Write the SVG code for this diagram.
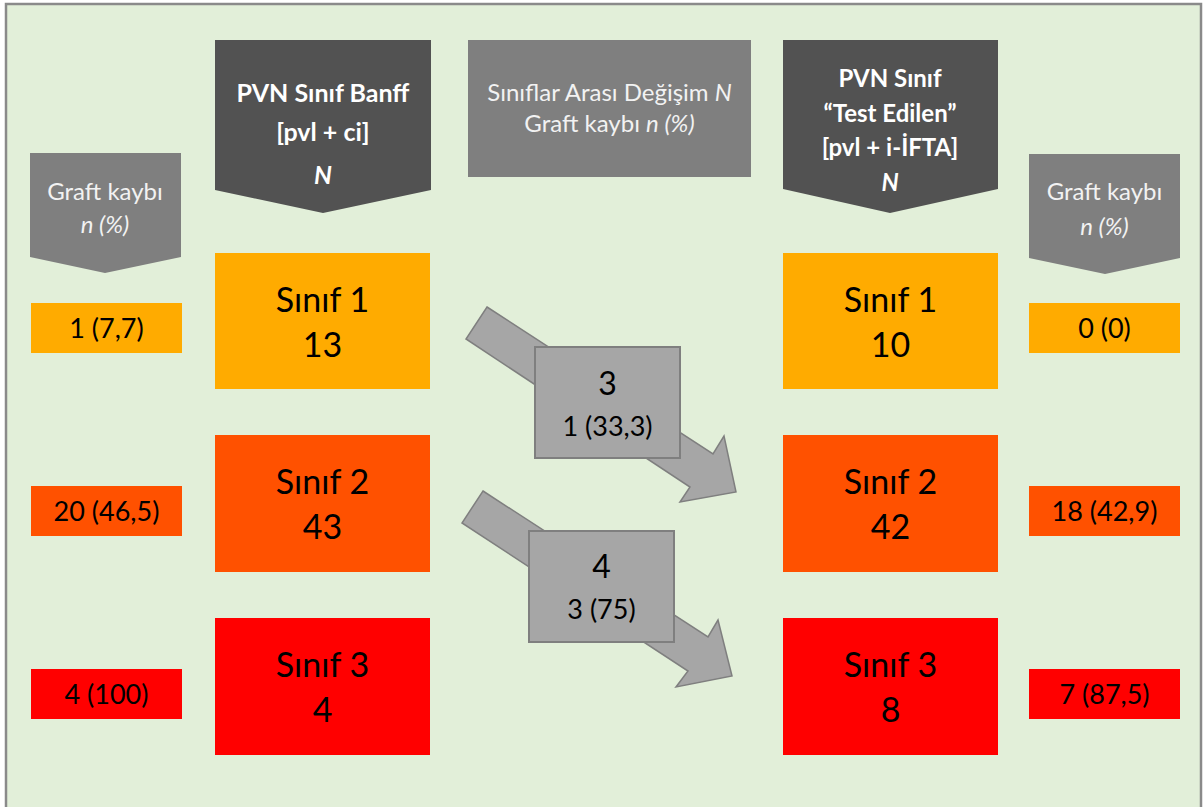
<svg xmlns="http://www.w3.org/2000/svg" width="1203" height="807" viewBox="0 0 1203 807">
<defs>
<style>
text{font-family:Lato,"Open Sans","Liberation Sans",sans-serif;text-anchor:middle}
.hdr{fill:#525252}
.gk{fill:#7f7f7f}
.c1{fill:#ffab00}
.c2{fill:#ff5100}
.c3{fill:#ff0000}
.big{font-size:34px;fill:#000}
.sm{font-size:27px;fill:#000}
.ht{font-size:24px;font-weight:bold;fill:#ffffff}
.gt{font-size:24px;fill:#f2f2f2}
.arr{fill:#a6a6a6;stroke:#7f7f7f;stroke-width:1.5}
.lbl{fill:#a6a6a6;stroke:#7f7f7f;stroke-width:2}
</style>
</defs>
<rect x="0" y="0" width="1203" height="807" fill="#ffffff"/>
<rect x="6" y="4" width="1195" height="812" fill="#e2efd9" stroke="#8a8a8a" stroke-width="2.5"/>

<g id="graft-left">
<polygon class="gk" points="30,153 181,153 181,257 105,273 30,257"/>
<text class="gt" x="105" y="200">Graft kaybı</text>
<text class="gt" x="105" y="233" font-style="italic">n (%)</text>
</g>
<g id="header-banff">
<polygon class="hdr" points="215,40 431,40 431,190 323,213 215,190"/>
<text class="ht" x="323" y="102" style="font-size:25px">PVN Sınıf Banff</text>
<text class="ht" x="323" y="141" style="font-size:25px">[pvl + ci]</text>
<text class="ht" x="323" y="184" style="font-size:25px" font-style="italic">N</text>
</g>
<g id="header-change">
<rect class="gk" x="468" y="40" width="283" height="137"/>
<text class="gt" x="609.5" y="101">Sınıflar Arası Değişim <tspan font-style="italic">N</tspan></text>
<text class="gt" x="609.5" y="132">Graft kaybı <tspan font-style="italic">n (%)</tspan></text>
</g>
<g id="header-tested">
<polygon class="hdr" points="783,40 998,40 998,189 890,213 783,189"/>
<text class="ht" x="890" y="87">PVN Sınıf</text>
<text class="ht" x="890" y="122">“Test Edilen”</text>
<text class="ht" x="890" y="156">[pvl + i-İFTA]</text>
<text class="ht" x="890" y="191" font-style="italic">N</text>
</g>
<g id="graft-right">
<polygon class="gk" points="1029,154 1180,154 1180,258 1105,274 1029,258"/>
<text class="gt" x="1104.5" y="200">Graft kaybı</text>
<text class="gt" x="1104.5" y="235" font-style="italic">n (%)</text>
</g>

<g id="connectors">
<polygon class="arr" points="487,307 713,454 724,436 736,492 680,502 690,487 466,339"/>
<polygon class="arr" points="483,491 708,637 718,620 732,676 676,687 688,671 462,523"/>
</g>

<g id="change-1-2">
<rect class="lbl" x="535" y="347" width="145" height="111"/>
<text class="big" x="607.5" y="395" style="font-size:32px">3</text>
<text class="sm" x="607.5" y="436">1 (33,3)</text>
</g>
<g id="change-2-3">
<rect class="lbl" x="529" y="531" width="145" height="111"/>
<text class="big" x="601.5" y="578" style="font-size:32px">4</text>
<text class="sm" x="601.5" y="619">3 (75)</text>
</g>

<g id="left-loss-1"><rect class="c1" x="31" y="303" width="151" height="50"/><text class="sm" x="106.5" y="338">1 (7,7)</text></g>
<g id="left-loss-2"><rect class="c2" x="31" y="486" width="151" height="50"/><text class="sm" x="106.5" y="521">20 (46,5)</text></g>
<g id="left-loss-3"><rect class="c3" x="31" y="669" width="151" height="50"/><text class="sm" x="106.5" y="704">4 (100)</text></g>

<g id="banff-1"><rect class="c1" x="215" y="253" width="215" height="136"/><text class="big" x="322.5" y="312">Sınıf 1</text><text class="big" x="322.5" y="357">13</text></g>
<g id="banff-2"><rect class="c2" x="215" y="435" width="215" height="137"/><text class="big" x="322.5" y="494">Sınıf 2</text><text class="big" x="322.5" y="539">43</text></g>
<g id="banff-3"><rect class="c3" x="215" y="618" width="215" height="137"/><text class="big" x="322.5" y="677">Sınıf 3</text><text class="big" x="322.5" y="722">4</text></g>

<g id="tested-1"><rect class="c1" x="783" y="253" width="215" height="136"/><text class="big" x="890.5" y="312">Sınıf 1</text><text class="big" x="890.5" y="357">10</text></g>
<g id="tested-2"><rect class="c2" x="783" y="435" width="215" height="137"/><text class="big" x="890.5" y="494">Sınıf 2</text><text class="big" x="890.5" y="539">42</text></g>
<g id="tested-3"><rect class="c3" x="783" y="618" width="215" height="137"/><text class="big" x="890.5" y="677">Sınıf 3</text><text class="big" x="890.5" y="722">8</text></g>

<g id="right-loss-1"><rect class="c1" x="1029" y="303" width="151" height="50"/><text class="sm" x="1104.5" y="338">0 (0)</text></g>
<g id="right-loss-2"><rect class="c2" x="1029" y="486" width="151" height="50"/><text class="sm" x="1104.5" y="521">18 (42,9)</text></g>
<g id="right-loss-3"><rect class="c3" x="1029" y="669" width="151" height="50"/><text class="sm" x="1104.5" y="704">7 (87,5)</text></g>
</svg>
